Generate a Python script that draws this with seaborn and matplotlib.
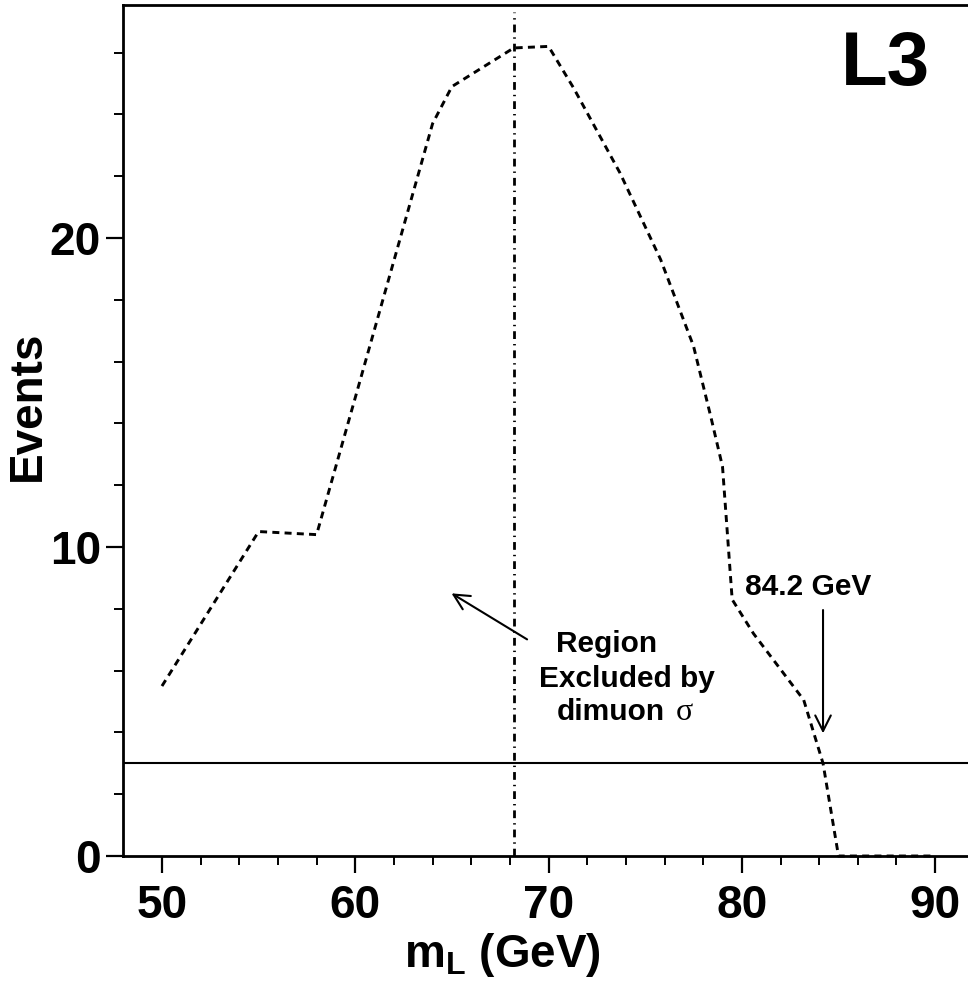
import numpy as np
import pandas as pd
import matplotlib
matplotlib.use("Agg")
import matplotlib.pyplot as plt
import seaborn as sns

# ---- data ----
mass_gev = [50, 55, 58, 64, 65, 68.2, 70, 71.3, 73.7, 75.8, 77.5, 78.4, 79, 79.5,
            80.6, 83.2, 84.2, 85, 90]
events = [5.5, 10.5, 10.4, 23.7, 24.9, 26.15, 26.2, 24.85, 22.1, 19.3, 16.5, 14.2,
          12.6, 8.3, 7.2, 5.05, 3.0, 0.0, 0.0]
limit_events = 3.0
excluded_mass = 68.2
mass_limit = 84.2
x_major = [50, 60, 70, 80, 90]
y_major = [0, 10, 20]

sns.set_theme(style="ticks")
plt.rcParams["font.family"] = ["Liberation Sans", "DejaVu Sans"]
plt.rcParams["font.weight"] = "bold"
plt.rcParams["mathtext.fontset"] = "custom"
plt.rcParams["mathtext.bf"] = "Liberation Sans:bold"
plt.rcParams["mathtext.rm"] = "Liberation Sans:bold"

W, H = 968, 984
fig = plt.figure(figsize=(W / 100, H / 100), dpi=100)
left_px, bottom_px, top_px = 123.3, 856, 5
ax = fig.add_axes([left_px / W, 1 - bottom_px / H, 1 - left_px / W, (bottom_px - top_px) / H])

df = pd.DataFrame({"mass": mass_gev, "events": events})
sns.lineplot(data=df, x="mass", y="events", ax=ax, color="black", lw=2.1,
             sort=False, estimator=None, zorder=5)
ax.lines[0].set_dashes((2.4, 1.8))
ax.lines[0].set_clip_on(False)

ax.axhline(limit_events, color="black", lw=1.5, zorder=4)
ax.vlines(excluded_mass, 0, 27.3, colors="black", lw=2.0,
          linestyles=[(0, (2.8, 1.8, 0.5, 1.8))], zorder=4)

ax.set_xlim(48, 91.7)
ax.set_ylim(0, 27.54)
ax.set_xticks(x_major)
ax.set_xticks(np.arange(52, 92, 2), minor=True)
ax.set_yticks(y_major)
ax.set_yticks(np.arange(2, 28, 2), minor=True)
ax.tick_params(which="major", direction="out", length=12, width=1.6, colors="black",
               labelsize=33)
ax.tick_params(which="minor", direction="out", length=6.5, width=1.4, colors="black")
ax.tick_params(axis="x", which="major", pad=8)
ax.tick_params(axis="y", which="major", pad=4)
for lab in ax.get_xticklabels() + ax.get_yticklabels():
    lab.set_fontweight("bold")
ax.set_xlabel("")
ax.set_ylabel("")
for s in ["left", "bottom", "top"]:
    ax.spines[s].set_linewidth(2.0)
    ax.spines[s].set_color("black")
ax.spines["right"].set_visible(False)

# annotations
ax.annotate("", xy=(mass_limit, 3.97), xytext=(mass_limit, 7.96),
            arrowprops=dict(arrowstyle="->", lw=1.5, color="black",
                            mutation_scale=28, shrinkA=0, shrinkB=0))
ax.text(83.42, 8.45, "84.2 GeV", ha="center", va="baseline", fontsize=21.5,
        fontweight="bold", color="black")
ax.annotate("", xy=(64.98, 8.50), xytext=(68.89, 7.01),
            arrowprops=dict(arrowstyle="->", lw=1.5, color="black",
                            mutation_scale=28, shrinkA=0, shrinkB=0))
ax.text(73.02, 6.61, "Region", ha="center", va="baseline", fontsize=21.5,
        fontweight="bold", color="black")
ax.text(74.04, 5.48, "Excluded by", ha="center", va="baseline", fontsize=21.5,
        fontweight="bold", color="black")
ax.text(73.2, 4.40, "dimuon", ha="center", va="baseline", fontsize=21.5,
        fontweight="bold", color="black")
ax.text(77.04, 4.40, "σ", ha="center", va="baseline", fontsize=23,
        fontweight="normal", family=["Liberation Serif", "DejaVu Serif"], color="black")
ax.text(87.41, 24.95, "L3", ha="center", va="baseline", fontsize=55,
        fontweight="bold", color="black")

fig.text(502 / W, 1 - 966.7 / H, r"m$_{\mathbf{L}}$ (GeV)", ha="center", va="baseline",
         fontsize=33, fontweight="bold", color="black")
fig.text(28 / W, 1 - 406 / H, "Events", rotation=90, ha="center", va="center",
         fontsize=33, fontweight="bold", color="black")

fig.savefig("out.png", dpi=100, facecolor="white")
